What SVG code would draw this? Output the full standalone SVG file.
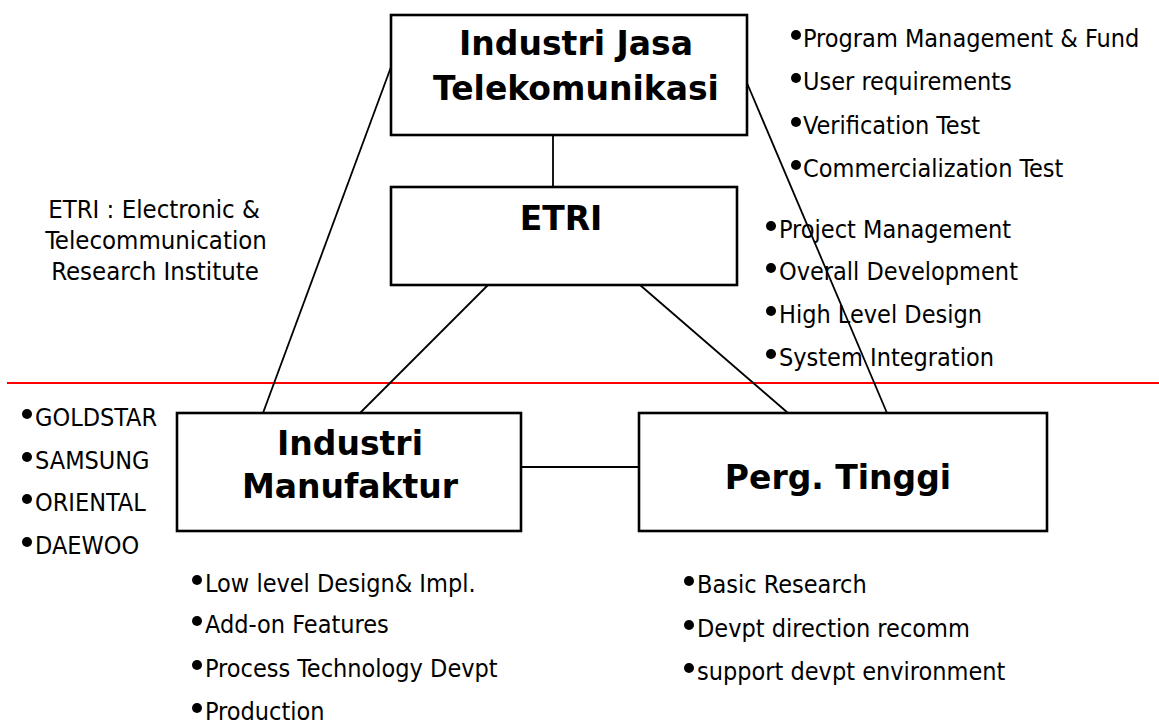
<svg xmlns="http://www.w3.org/2000/svg" width="1159" height="724" viewBox="0 0 1159 724">
<style>
.box{fill:#fff;stroke:#000;stroke-width:2.6}
.ln{stroke:#000;stroke-width:1.8;fill:none}
.t{font-family:"DejaVu Sans Condensed","DejaVu Sans",sans-serif;font-stretch:condensed;font-size:25px;fill:#000}
.s{font-family:"DejaVu Sans Condensed","DejaVu Sans",sans-serif;font-stretch:condensed;font-size:25.5px;fill:#000;text-anchor:middle}
.h{font-family:"DejaVu Sans",sans-serif;font-weight:bold;font-size:33px;fill:#000;text-anchor:middle}
.b{fill:#000}
</style>
<rect width="1159" height="724" fill="#fff"/>
<line x1="7" y1="383" x2="1159" y2="383" stroke="#ff0000" stroke-width="2"/>
<g id="connectors">
<line class="ln" x1="553" y1="135" x2="553" y2="187"/>
<line class="ln" x1="391" y1="67" x2="263" y2="413"/>
<line class="ln" x1="747" y1="83" x2="887" y2="413"/>
<line class="ln" x1="488" y1="285" x2="360" y2="413"/>
<line class="ln" x1="640" y1="285" x2="788" y2="413"/>
<line class="ln" x1="521" y1="467" x2="639" y2="467"/>
</g>
<g id="node-jasa">
<rect class="box" x="391" y="15" width="356" height="120"/>
<text class="h" x="576" y="55">Industri Jasa</text>
<text class="h" x="576" y="100">Telekomunikasi</text>
</g>
<g id="node-etri">
<rect class="box" x="391" y="187" width="346" height="98"/>
<text class="h" x="561" y="230">ETRI</text>
</g>
<g id="node-manufaktur">
<rect class="box" x="177" y="413" width="344" height="118"/>
<text class="h" x="350" y="455">Industri</text>
<text class="h" x="350" y="498">Manufaktur</text>
</g>
<g id="node-perg">
<rect class="box" x="639" y="413" width="408" height="118"/>
<text class="h" x="838" y="489">Perg. Tinggi</text>
</g>
<g id="etri-note">
<text class="s" x="154" y="218">ETRI : Electronic &amp;</text>
<text class="s" x="156" y="249">Telecommunication</text>
<text class="s" x="155" y="280">Research Institute</text>
</g>
<g id="list-jasa">
<circle class="b" cx="796" cy="35" r="5"/><text class="t" x="803" y="47">Program Management &amp; Fund</text>
<circle class="b" cx="796" cy="78" r="5"/><text class="t" x="803" y="90">User requirements</text>
<circle class="b" cx="796" cy="122" r="5"/><text class="t" x="803" y="134">Verification Test</text>
<circle class="b" cx="796" cy="165" r="5"/><text class="t" x="803" y="177">Commercialization Test</text>
</g>
<g id="list-etri">
<circle class="b" cx="771" cy="226" r="5"/><text class="t" x="779" y="238">Project Management</text>
<circle class="b" cx="771" cy="268" r="5"/><text class="t" x="779" y="280">Overall Development</text>
<circle class="b" cx="771" cy="311" r="5"/><text class="t" x="779" y="323">High Level Design</text>
<circle class="b" cx="771" cy="354" r="5"/><text class="t" x="779" y="366">System Integration</text>
</g>
<g id="list-companies">
<circle class="b" cx="27" cy="414" r="5"/><text class="t" x="35" y="426">GOLDSTAR</text>
<circle class="b" cx="27" cy="457" r="5"/><text class="t" x="35" y="469">SAMSUNG</text>
<circle class="b" cx="27" cy="499" r="5"/><text class="t" x="35" y="511">ORIENTAL</text>
<circle class="b" cx="27" cy="542" r="5"/><text class="t" x="35" y="554">DAEWOO</text>
</g>
<g id="list-manufaktur">
<circle class="b" cx="197" cy="580" r="5"/><text class="t" x="205" y="592">Low level Design&amp; Impl.</text>
<circle class="b" cx="197" cy="621" r="5"/><text class="t" x="205" y="633">Add-on Features</text>
<circle class="b" cx="197" cy="665" r="5"/><text class="t" x="205" y="677">Process Technology Devpt</text>
<circle class="b" cx="197" cy="708" r="5"/><text class="t" x="205" y="720">Production</text>
</g>
<g id="list-perg">
<circle class="b" cx="689" cy="581" r="5"/><text class="t" x="697" y="593">Basic Research</text>
<circle class="b" cx="689" cy="625" r="5"/><text class="t" x="697" y="637">Devpt direction recomm</text>
<circle class="b" cx="689" cy="668" r="5"/><text class="t" x="697" y="680">support devpt environment</text>
</g>
</svg>
